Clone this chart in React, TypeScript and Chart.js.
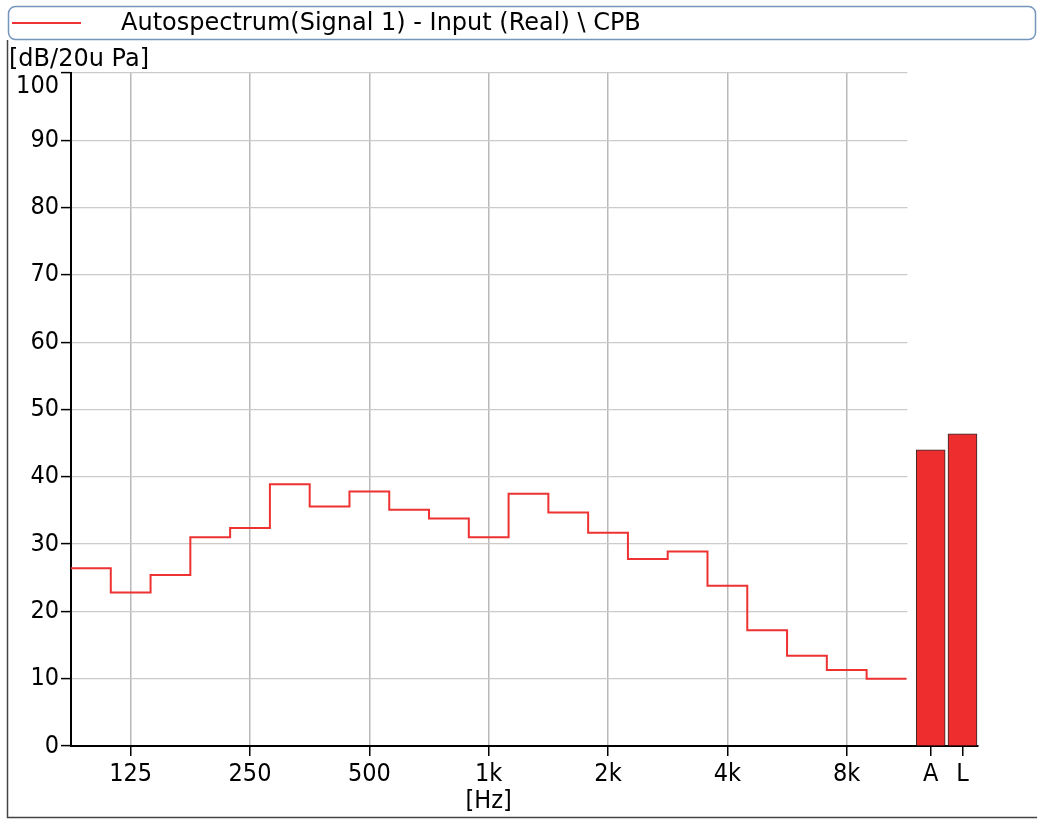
import React, { useEffect, useRef } from 'react';
import { Chart, registerables } from 'chart.js';

Chart.register(...registerables);

// ---- data ----
const BANDS = ['100', '125', '160', '200', '250', '315', '400', '500', '630', '800', '1k', '1.25k', '1.6k', '2k', '2.5k', '3.15k', '4k', '5k', '6.3k', '8k', '10k'];
const LEVELS = [26.4, 22.8, 25.4, 31.0, 32.4, 38.9, 35.6, 37.8, 35.1, 33.8, 31.0, 37.5, 34.7, 31.7, 27.8, 28.9, 23.8, 17.2, 13.4, 11.3, 10.0];
const OVERALL_LABELS = ['A', 'L'];
const OVERALL_VALUES = [44.0, 46.4];
const X_TICK_LABELS = ['125', '250', '500', '1k', '2k', '4k', '8k'];
const Y_TICKS = [0, 10, 20, 30, 40, 50, 60, 70, 80, 90, 100];
const LEGEND_TEXT = 'Autospectrum(Signal 1) - Input (Real) \\ CPB';
const Y_UNIT = '[dB/20u Pa]';
const X_UNIT = '[Hz]';

// ---- layout / style constants ----
const TEXT_FONT = '"DejaVu Sans", sans-serif';
const NUM_FONT = '"DejaVu Sans Condensed", "DejaVu Sans", sans-serif';
const TEXT_SIZE = 24;
const NUM_SIZE = 25;
const RED = '#ee3232';
const OVERALL_START = 0.61; // offset (in band widths) of first overall bar past last band
const OVERALL_STEP = 0.8;
const X_MAX = 22.8;

export default function App() {
  const ref = useRef<HTMLCanvasElement | null>(null);

  useEffect(() => {
    if (!ref.current) return;
    const nb = BANDS.length;
    const stepPoints = LEVELS.map((v, i) => ({ x: i, y: v }));
    stepPoints.push({ x: nb, y: LEVELS[nb - 1] });
    const overallPos = OVERALL_LABELS.map((_, i) => nb + OVERALL_START + i * OVERALL_STEP);
    const barPoints = OVERALL_VALUES.map((v, i) => ({ x: overallPos[i], y: v }));
    const tickValues = [
      ...X_TICK_LABELS.map((l) => BANDS.indexOf(l) + 0.5),
      ...overallPos,
    ];
    const tickTexts = [...X_TICK_LABELS, ...OVERALL_LABELS];

    const decor = {
      id: 'decor',
      beforeDatasetsDraw(chart: any) {
        const { ctx, chartArea } = chart;
        const xs = chart.scales.x;
        const x0 = xs.getPixelForValue(nb) + 1;
        ctx.save();
        ctx.fillStyle = '#ffffff';
        ctx.fillRect(x0, chartArea.top - 2, chartArea.right - x0 + 3, chartArea.bottom - chartArea.top + 0.5);
        ctx.restore();
      },
      afterDraw(chart: any) {
        const { ctx } = chart;
        const xs = chart.scales.x;
        ctx.save();
        // legend box
        ctx.strokeStyle = '#7496bd';
        ctx.lineWidth = 1.5;
        ctx.beginPath();
        (ctx as any).roundRect(8.5, 6.5, 1027, 33, 7);
        ctx.stroke();
        ctx.strokeStyle = RED;
        ctx.lineWidth = 2;
        ctx.beginPath();
        ctx.moveTo(12, 23);
        ctx.lineTo(81, 23);
        ctx.stroke();
        ctx.fillStyle = '#000';
        ctx.font = `${TEXT_SIZE}px ${TEXT_FONT}`;
        ctx.textBaseline = 'middle';
        ctx.textAlign = 'left';
        ctx.fillText(LEGEND_TEXT, 121, 24);
        // frame
        ctx.strokeStyle = '#444';
        ctx.lineWidth = 1.5;
        ctx.beginPath();
        ctx.moveTo(7.5, 40);
        ctx.lineTo(7.5, 817.5);
        ctx.lineTo(1037, 817.5);
        ctx.stroke();
        // units
        ctx.fillStyle = '#000';
        ctx.fillText(Y_UNIT, 9, 60);
        ctx.textAlign = 'center';
        ctx.font = `${NUM_SIZE}px ${NUM_FONT}`;
        ctx.fillText(X_UNIT, xs.getPixelForValue(BANDS.indexOf('1k') + 0.5), 801);
        ctx.restore();
      },
    };

    const chart = new Chart(ref.current, {
      type: 'line',
      data: {
        datasets: [
          {
            type: 'line',
            data: stepPoints,
            stepped: 'before',
            borderColor: RED,
            borderWidth: 2,
            pointRadius: 0,
            fill: false,
          } as any,
          {
            type: 'bar',
            data: barPoints,
            backgroundColor: '#ee2e2e',
            borderColor: '#2a2a2a',
            borderWidth: 1,
            barThickness: 29,
          } as any,
        ],
      },
      options: {
        animation: false,
        responsive: false,
        layout: { padding: { top: 73, right: 59, left: 0, bottom: 0 } },
        plugins: { legend: { display: false }, tooltip: { enabled: false } },
        scales: {
          x: {
            type: 'linear',
            min: 0,
            max: X_MAX,
            offset: false,
            afterFit: (s: any) => { s.height = 74; },
            afterBuildTicks: (s: any) => { s.ticks = tickValues.map((v) => ({ value: v })); },
            ticks: {
              autoSkip: false,
              maxRotation: 0,
              padding: 3,
              color: '#000',
              font: { family: NUM_FONT, size: NUM_SIZE },
              callback: (_v: any, i: number) => tickTexts[i],
            },
            grid: {
              offset: false,
              lineWidth: 1.5,
              color: (c: any) => (c.tick && c.tick.value > nb ? 'rgba(0,0,0,0)' : '#b9b9b9'),
              tickColor: '#000',
              tickLength: 10,
              tickWidth: 1.5,
            },
            border: { color: '#000', width: 2 },
          },
          y: {
            type: 'linear',
            min: 0,
            max: 100,
            afterFit: (s: any) => { s.width = 71; },
            afterBuildTicks: (s: any) => { s.ticks = Y_TICKS.map((v) => ({ value: v })); },
            ticks: {
              padding: 2,
              color: '#000',
              font: { family: NUM_FONT, size: NUM_SIZE, lineHeight: 1.05 },
              callback: (v: any) => (v === 100 ? ['', String(v)] : String(v)),
            },
            grid: {
              lineWidth: 1.2,
              color: '#cbcbcb',
              tickColor: '#000',
              tickLength: 10,
              tickWidth: 1.5,
            },
            border: { color: '#000', width: 2 },
          },
        },
      },
      plugins: [decor],
    });
    return () => chart.destroy();
  }, []);

  return (
    <canvas
      ref={ref}
      width={1037}
      height={820}
      style={{ position: 'fixed', left: 0, top: 0, width: 1037, height: 820, background: '#fff' }}
    />
  );
}
